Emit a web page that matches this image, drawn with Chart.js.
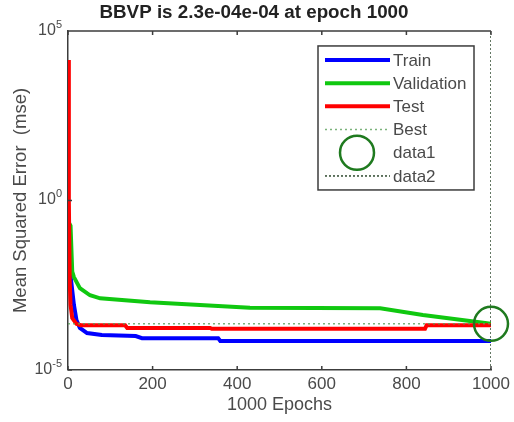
<!DOCTYPE html>
<html>
<head>
<meta charset="utf-8">
<script src="https://cdn.jsdelivr.net/npm/chart.js@4/dist/chart.umd.min.js"></script>
<style>
  body { margin: 0; background: #fff; }
  canvas { display: block; }
</style>
</head>
<body>
<canvas id="perf" width="514" height="422"></canvas>
<script>
'use strict';
//___________PERFORMANCE DATA (mse per epoch)__________________
var trainEpochs = [0, 3, 8, 14, 20, 28, 45, 80, 160, 175, 355, 360, 1000];
var trainMse = [0.05, 0.0126, 0.0037, 8.3e-4, 2.95e-4, 1.74e-4, 1.23e-4, 1.07e-4, 1.0e-4, 8.7e-5, 8.7e-5, 7.2e-5, 7.2e-5];

var valEpochs = [0, 6, 10, 14, 28, 52, 76, 194, 312, 430, 738, 839, 950, 1000];
var valMse = [0.25, 0.18, 0.008, 0.0055, 0.0026, 0.0016, 0.0013, 0.001, 8.3e-4, 6.8e-4, 6.6e-4, 4.2e-4, 2.8e-4, 2.3e-4];

var testEpochs = [0, 2, 4, 6, 10, 20, 30, 135, 140, 336, 340, 844, 848, 1000];
var testMse = [1.4e4, 1.0, 0.0045, 8.3e-4, 3.4e-4, 2.3e-4, 2.1e-4, 2.1e-4, 1.74e-4, 1.74e-4, 1.65e-4, 1.65e-4, 2.1e-4, 2.1e-4];

var bestEpoch = 1000;
var bestMse = 2.3e-4;
var epochMax = 1000;
var xTicks = [0, 200, 400, 600, 800, 1000];
var yTicks = [1e-5, 1e0, 1e5];

function toPoints(xs, ys) {
  var pts = [];
  for (var i = 0; i < xs.length; i++) {
    pts.push({x: xs[i], y: ys[i]});
  }
  return pts;
}

var axisColor = '#3c3c3c';
var textColor = '#4a4a4a';
var fontFamily = '"Liberation Sans", Arial, sans-serif';

//___________LEGEND BOX INSIDE THE AXES_________________
var legendBox = {
  id: 'legendBox',
  afterDatasetsDraw: function(chart) {
    var ctx = chart.ctx;
    var area = chart.chartArea;
    var x0 = area.right - 173, y0 = area.top + 15, w = 156, h = 144;
    ctx.save();
    ctx.fillStyle = '#fff';
    ctx.fillRect(x0, y0, w, h);
    ctx.strokeStyle = axisColor;
    ctx.lineWidth = 1.5;
    ctx.strokeRect(x0, y0, w, h);
    ctx.font = '17px ' + fontFamily;
    ctx.textBaseline = 'middle';
    chart.data.datasets.forEach(function(ds, i) {
      var y = y0 + 14 + i * 23.2;
      if (ds.showLine === false) {
        ctx.beginPath();
        ctx.arc(x0 + 39, y, ds.pointRadius, 0, Math.PI * 2);
        ctx.strokeStyle = ds.borderColor;
        ctx.lineWidth = ds.pointBorderWidth;
        ctx.stroke();
      } else {
        ctx.beginPath();
        ctx.setLineDash(ds.borderDash || []);
        ctx.strokeStyle = ds.borderColor;
        ctx.lineWidth = ds.borderWidth;
        ctx.moveTo(x0 + 7, y);
        ctx.lineTo(x0 + 72, y);
        ctx.stroke();
        ctx.setLineDash([]);
      }
      ctx.fillStyle = textColor;
      ctx.fillText(ds.label, x0 + 75, y + 1);
    });
    ctx.restore();
  }
};

//___________BOX, INWARD TICKS, 10^n LABELS_________________
var axesBox = {
  id: 'axesBox',
  afterDraw: function(chart) {
    var ctx = chart.ctx;
    var a = chart.chartArea;
    var xs = chart.scales.x, ys = chart.scales.y;
    ctx.save();
    ctx.strokeStyle = axisColor;
    ctx.lineWidth = 1.5;
    ctx.beginPath();
    ctx.moveTo(a.left, a.top);
    ctx.lineTo(a.right, a.top);
    xTicks.forEach(function(t) {
      var px = xs.getPixelForValue(t);
      ctx.moveTo(px, a.bottom);
      ctx.lineTo(px, a.bottom - 4);
      ctx.moveTo(px, a.top);
      ctx.lineTo(px, a.top + 4);
    });
    yTicks.forEach(function(t) {
      var py = ys.getPixelForValue(t);
      ctx.moveTo(a.left, py);
      ctx.lineTo(a.left + 4, py);
    });
    ctx.stroke();

    ctx.fillStyle = textColor;
    ctx.textAlign = 'left';
    ctx.textBaseline = 'alphabetic';
    yTicks.forEach(function(t) {
      var py = ys.getPixelForValue(t);
      var ex = String(Math.round(Math.log10(t)));
      ctx.font = '11px ' + fontFamily;
      var ew = ctx.measureText(ex).width;
      ctx.font = '16px ' + fontFamily;
      var bw = ctx.measureText('10').width;
      var right = a.left - 6;
      ctx.fillText('10', right - ew - bw, py + 4);
      ctx.font = '11px ' + fontFamily;
      ctx.fillText(ex, right - ew, py - 3);
    });
    ctx.restore();
  }
};

var ctx = document.getElementById('perf').getContext('2d');
new Chart(ctx, {
  type: 'scatter',
  data: {
    datasets: [
      {
        label: 'Train',
        data: toPoints(trainEpochs, trainMse),
        showLine: true, borderColor: '#0000ff', borderWidth: 4,
        pointRadius: 0, order: 4
      },
      {
        label: 'Validation',
        data: toPoints(valEpochs, valMse),
        showLine: true, borderColor: '#10c810', borderWidth: 4,
        pointRadius: 0, order: 3
      },
      {
        label: 'Test',
        data: toPoints(testEpochs, testMse),
        showLine: true, borderColor: '#ff0000', borderWidth: 4,
        pointRadius: 0, order: 2
      },
      {
        label: 'Best',
        data: toPoints([0, epochMax], [bestMse, bestMse]),
        showLine: true, borderColor: 'rgba(90,160,90,0.8)', borderWidth: 1.5,
        borderDash: [2, 3], pointRadius: 0, order: 1
      },
      {
        label: 'data1',
        data: toPoints([bestEpoch], [bestMse]),
        showLine: false, pointStyle: 'circle', pointRadius: 17,
        pointBorderWidth: 2.5, borderColor: '#1f7a1f', backgroundColor: 'rgba(0,0,0,0)',
        clip: false, order: 0
      },
      {
        label: 'data2',
        data: toPoints([bestEpoch, bestEpoch], [yTicks[0], yTicks[2]]),
        showLine: true, borderColor: '#2f4a2f', borderWidth: 1.5,
        borderDash: [2, 2], pointRadius: 0, order: 0
      }
    ]
  },
  options: {
    responsive: false,
    animation: false,
    layout: {padding: {left: 17, right: 23, top: 0, bottom: 0}},
    plugins: {
      legend: {display: false},
      tooltip: {enabled: false},
      title: {
        display: true,
        text: 'BBVP is 2.3e-04e-04 at epoch 1000',
        color: '#222',
        font: {family: fontFamily, size: 18.8, weight: 'bold'},
        padding: {top: 2, bottom: 6.4}
      }
    },
    scales: {
      x: {
        type: 'linear',
        min: 0, max: epochMax,
        afterBuildTicks: function(scale) {
          scale.ticks = xTicks.map(function(v) { return {value: v}; });
        },
        afterFit: function(scale) { scale.height = 52; },
        grid: {display: false, drawTicks: false},
        border: {display: true, color: axisColor, width: 1.5},
        ticks: {
          color: textColor, padding: 4, maxRotation: 0,
          font: {family: fontFamily, size: 17},
          callback: function(v) { return String(v); }
        },
        title: {
          display: true, text: '1000 Epochs', color: textColor,
          font: {family: fontFamily, size: 18},
          padding: {top: 0, bottom: 6}
        }
      },
      y: {
        type: 'logarithmic',
        min: yTicks[0], max: yTicks[2],
        afterBuildTicks: function(scale) {
          scale.ticks = yTicks.map(function(v) { return {value: v}; });
        },
        afterFit: function(scale) { scale.width = 51; },
        grid: {display: false, drawTicks: false},
        border: {display: true, color: axisColor, width: 1.5},
        ticks: {display: false},
        title: {
          display: true, text: 'Mean Squared Error  (mse)', color: textColor,
          font: {family: fontFamily, size: 18.5},
          padding: {top: -7, bottom: 0}
        }
      }
    }
  },
  plugins: [legendBox, axesBox]
});
</script>
</body>
</html>
